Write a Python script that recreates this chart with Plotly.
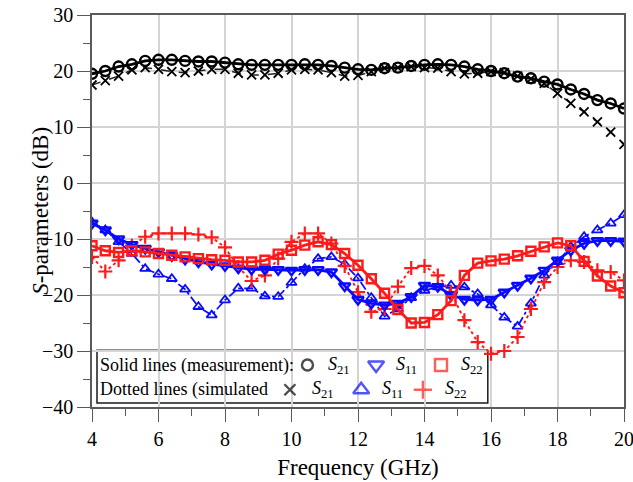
import plotly.graph_objects as go

# Frequency sweep (GHz)
freq = [4.0, 4.4, 4.8, 5.2, 5.6, 6.0, 6.4, 6.8, 7.2, 7.6, 8.0, 8.4, 8.8, 9.2,
        9.6, 10.0, 10.4, 10.8, 11.2, 11.6, 12.0, 12.4, 12.8, 13.2, 13.6, 14.0,
        14.4, 14.8, 15.2, 15.6, 16.0, 16.4, 16.8, 17.2, 17.6, 18.0, 18.4, 18.8,
        19.2, 19.6, 20.0]

# Measured S-parameters (dB)
s21_meas = [19.5, 20.0, 20.8, 21.2, 21.8, 22.0, 22.0, 21.8, 21.7, 21.7, 21.5,
            21.2, 21.1, 21.1, 21.1, 21.1, 21.2, 21.1, 20.9, 20.6, 20.3, 20.2,
            20.5, 20.6, 20.9, 21.1, 21.2, 21.1, 20.8, 20.3, 20.0, 19.6, 19.0,
            18.7, 18.1, 17.6, 16.7, 15.9, 14.8, 14.2, 13.3]
s11_meas = [-7.2, -8.4, -10.0, -11.0, -11.7, -12.3, -13.0, -13.6, -14.1, -14.5,
            -14.8, -15.2, -15.4, -15.4, -15.5, -15.6, -15.5, -15.5, -15.9,
            -18.4, -20.8, -21.5, -21.8, -21.5, -20.3, -18.3, -18.5, -20.0,
            -20.8, -20.9, -20.8, -19.5, -18.3, -17.0, -15.6, -13.8, -12.0,
            -10.8, -10.3, -10.3, -10.4]
s22_meas = [-11.2, -12.1, -12.4, -12.1, -12.3, -12.6, -12.9, -13.2, -13.5,
            -13.7, -13.8, -14.1, -14.1, -13.8, -12.7, -12.0, -11.1, -10.5,
            -11.0, -12.6, -14.7, -17.1, -19.7, -22.6, -25.0, -24.9, -23.5,
            -21.0, -16.5, -14.3, -13.9, -13.6, -13.0, -12.2, -11.4, -10.7,
            -11.2, -14.0, -16.6, -18.4, -19.6]

# Simulated S-parameters (dB)
s21_sim = [17.5, 18.3, 19.1, 20.2, 20.6, 20.3, 19.9, 19.7, 20.0, 20.3, 20.3,
           19.6, 19.3, 19.3, 19.6, 20.2, 20.3, 20.2, 19.7, 19.1, 19.2, 19.9,
           20.5, 20.6, 20.8, 20.6, 20.5, 19.9, 19.5, 19.6, 19.9, 19.7, 19.1,
           18.6, 17.8, 16.0, 14.2, 12.7, 10.9, 9.1, 6.9]
s11_sim = [-7.0, -8.4, -10.5, -12.6, -15.3, -16.3, -17.1, -19.0, -22.1, -23.6,
           -20.9, -18.8, -18.8, -20.2, -20.3, -17.8, -15.3, -13.5, -13.2,
           -14.5, -17.0, -20.5, -23.8, -22.5, -20.5, -19.2, -18.6, -18.3,
           -18.6, -19.8, -21.8, -24.0, -25.6, -21.5, -16.5, -14.1, -11.4,
           -9.6, -8.4, -7.2, -5.7]
s22_sim = [-13.2, -15.8, -13.8, -11.2, -9.6, -9.0, -9.0, -9.0, -9.2, -9.7,
           -11.5, -15.0, -17.5, -16.5, -13.5, -10.5, -9.0, -9.0, -10.8, -14.8,
           -19.5, -23.0, -22.5, -18.5, -15.2, -14.8, -16.5, -19.5, -24.5,
           -28.4, -30.5, -30.0, -27.5, -22.5, -17.7, -15.0, -13.8, -14.1,
           -15.6, -15.9, -17.4]

x_ticks = [4, 6, 8, 10, 12, 14, 16, 18, 20]
y_ticks = [-40, -30, -20, -10, 0, 10, 20, 30]

BLACK = "#000000"
BLUE = "#0a0aff"
RED = "#ff1a1a"
FONT = "Liberation Serif"

fig = go.Figure()

# Simulated curves (thin, dotted / dash-dot)
fig.add_trace(go.Scatter(
    x=freq, y=s11_sim, mode="lines+markers",
    line=dict(color=BLUE, width=1.7, dash="dashdot"),
    marker=dict(symbol="triangle-up-open", size=9, color=BLUE,
                line=dict(width=1.8, color=BLUE))))
fig.add_trace(go.Scatter(
    x=freq, y=s22_sim, mode="lines+markers",
    line=dict(color=RED, width=1.9, dash="dot"),
    marker=dict(symbol="cross-thin-open", size=10, color=RED,
                line=dict(width=2.2, color=RED))))

# Measured curves (thick, solid)
fig.add_trace(go.Scatter(
    x=freq, y=s11_meas, mode="lines+markers",
    line=dict(color=BLUE, width=2.8),
    marker=dict(symbol="triangle-down-open", size=10, color=BLUE,
                line=dict(width=2.4, color=BLUE))))
fig.add_trace(go.Scatter(
    x=freq, y=s22_meas, mode="lines+markers",
    line=dict(color=RED, width=2.8),
    marker=dict(symbol="square-open", size=9, color=RED,
                line=dict(width=2.4, color=RED))))
fig.add_trace(go.Scatter(
    x=freq, y=s21_sim, mode="lines+markers",
    line=dict(color="#222222", width=1.5, dash="dash"),
    marker=dict(symbol="x-thin-open", size=9, color=BLACK,
                line=dict(width=1.8, color=BLACK))))
fig.add_trace(go.Scatter(
    x=freq, y=s21_meas, mode="lines+markers",
    line=dict(color=BLACK, width=2.8),
    marker=dict(symbol="circle-open", size=10, color=BLACK,
                line=dict(width=2.4, color=BLACK))))

# Hand-built legend box: symbols on an overlay axis spanning the plot area
legend_sym = ["circle-open", "triangle-down-open", "square-open",
              "x-thin-open", "triangle-up-open", "cross-thin-open"]
legend_col = [BLACK, BLUE, RED, BLACK, BLUE, RED]
legend_x = [0.405, 0.534, 0.656, 0.372, 0.506, 0.622]
legend_y = [0.107, 0.107, 0.107, 0.044, 0.044, 0.044]
legend_size = [11, 14, 12, 11, 14, 13]
fig.add_trace(go.Scatter(
    x=legend_x, y=legend_y, xaxis="x2", yaxis="y2", mode="markers",
    marker=dict(symbol=legend_sym, size=legend_size, color=legend_col,
                line=dict(width=2.4, color=legend_col))))

fig.add_shape(type="rect", xref="paper", yref="paper",
              x0=0.0094, x1=0.744, y0=0.010, y1=0.145,
              line=dict(color="#1a1a1a", width=1.5),
              fillcolor="white", layer="between")

def s_label(sub):
    return f"<i>S</i><sub>{sub}</sub>"

legend_text = [
    ("Solid lines (measurement):", 0.012, 0.107),
    (s_label(21), 0.440, 0.107),
    (s_label(11), 0.568, 0.107),
    (s_label(22), 0.690, 0.107),
    ("Dotted lines (simulated", 0.012, 0.044),
    (s_label(21), 0.410, 0.044),
    (s_label(11), 0.541, 0.044),
    (s_label(22), 0.660, 0.044),
]
for txt, ax_, ay_ in legend_text:
    fig.add_annotation(text=txt, x=ax_, y=ay_, xref="paper", yref="paper",
                       xanchor="left", yanchor="middle", showarrow=False,
                       font=dict(family=FONT, size=18, color=BLACK))

# Y-axis title placed beside the tick labels
fig.add_annotation(text="<i>S</i>-parameters (dB)", x=-0.098, y=0.5,
                   xref="paper", yref="paper", textangle=-90,
                   xanchor="center", yanchor="middle", showarrow=False,
                   font=dict(family=FONT, size=23, color=BLACK))

axis_common = dict(
    showline=True, linecolor="#5a5a5a", linewidth=1.5, mirror=True,
    showgrid=True, gridcolor="#d4d4d4", gridwidth=1.5, zeroline=False,
    ticks="outside", ticklen=13, tickwidth=1.3, tickcolor="#5a5a5a",
    tickfont=dict(family=FONT, size=20, color=BLACK),
    ticklabeloverflow="allow",
)

fig.update_layout(
    template="none",
    width=633, height=482,
    margin=dict(l=92, r=9, t=15, b=75),
    paper_bgcolor="white", plot_bgcolor="white",
    font=dict(family=FONT, size=20, color=BLACK),
    showlegend=False,
    xaxis=dict(range=[4, 20], tickvals=x_ticks,
               minor=dict(dtick=1, ticks="outside", ticklen=7,
                          tickcolor="#5a5a5a", showgrid=False),
               title=dict(text="Frequency (GHz)", standoff=10,
                          font=dict(family=FONT, size=23, color=BLACK)),
               **axis_common),
    yaxis=dict(range=[-40, 30], tickvals=y_ticks,
               minor=dict(dtick=5, ticks="outside", ticklen=7,
                          tickcolor="#5a5a5a", showgrid=False),
               **axis_common),
    xaxis2=dict(overlaying="x", anchor="y2", range=[0, 1], visible=False),
    yaxis2=dict(overlaying="y", anchor="x2", range=[0, 1], visible=False),
)

fig.write_html("out.html")
